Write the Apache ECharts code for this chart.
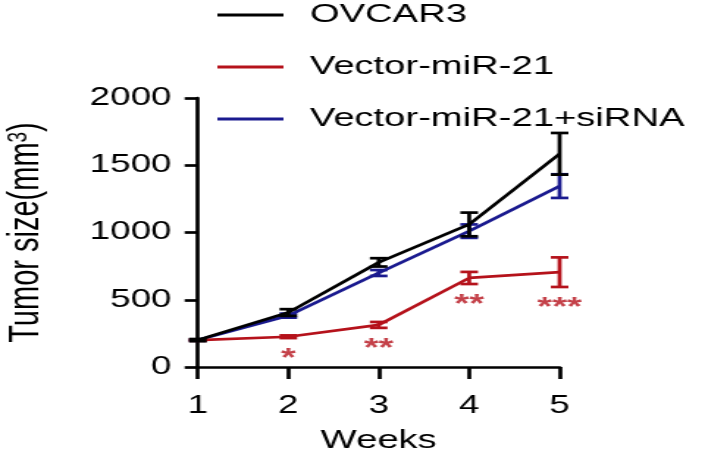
<!DOCTYPE html>
<html>
<head>
<meta charset="utf-8">
<script src="https://cdn.jsdelivr.net/npm/echarts@6/dist/echarts.min.js"></script>
<style>
  html, body { margin: 0; padding: 0; background: #fff; overflow: hidden; }
  #wrap { width: 705px; height: 460px; overflow: hidden; }
  #c { width: 480px; height: 460px; transform: scaleX(1.46875); transform-origin: 0 0; }
</style>
</head>
<body>
<div id="wrap"><div id="c"></div></div>
<script>
// ---- data ----
const weeks = [1, 2, 3, 4, 5];
const seriesNames = ['OVCAR3', 'Vector-miR-21', 'Vector-miR-21+siRNA'];
const ovcar3 = [200, 405, 778, 1060, 1585];
const ovcar3Err = [8, 25, 31, 88, 155];
const vectorMiR21 = [200, 225, 313, 662, 705];
const vectorMiR21Err = [5, 10, 22, 45, 110];
const siRNA = [200, 382, 699, 1010, 1345];
const siRNAErr = [5, 15, 22, 50, 88];
const stars = ['', '*', '**', '**', '***'];
const yTicks = { min: 0, max: 2000, interval: 500 };
const xTicks = { min: 1, max: 5, interval: 1 };

const colors = ['#000000', '#b5121b', '#1a1a8f'];
const FONT = 'Liberation Sans, Arial, sans-serif';

function lineSeries(name, vals, color, z) {
  return {
    name: name, type: 'line', data: weeks.map((w, i) => [w, vals[i]]),
    symbol: 'none', z: z,
    lineStyle: { color: color, width: 2.7 },
    itemStyle: { color: color },
    emphasis: { disabled: true }, animation: false
  };
}
function errSeries(name, vals, errs, color, z) {
  return {
    name: name, type: 'custom', z: z, clip: false, silent: true, animation: false,
    encode: { x: 0, y: 1 },
    data: weeks.map((w, i) => [w, vals[i], errs[i]]),
    renderItem: function (params, api) {
      const x = api.value(0), m = api.value(1), e = api.value(2);
      const hi = api.coord([x, m + e]);
      const lo = api.coord([x, m - e]);
      const hw = 6;
      const st = { stroke: color, lineWidth: 2.7 };
      return {
        type: 'group',
        children: [
          { type: 'line', shape: { x1: hi[0], y1: hi[1], x2: lo[0], y2: lo[1] }, style: st },
          { type: 'line', shape: { x1: hi[0] - hw, y1: hi[1], x2: hi[0] + hw, y2: hi[1] }, style: st },
          { type: 'line', shape: { x1: lo[0] - hw, y1: lo[1], x2: lo[0] + hw, y2: lo[1] }, style: st }
        ]
      };
    }
  };
}

const chart = echarts.init(document.getElementById('c'), null, { renderer: 'canvas' });
chart.setOption({
  animation: false,
  backgroundColor: '#ffffff',
  textStyle: { fontFamily: FONT },
  legend: {
    data: seriesNames.map(n => ({ name: n, icon: 'rect' })),
    orient: 'vertical', left: 143, top: -3,
    itemWidth: 45, itemHeight: 3, itemGap: 26,
    selectedMode: false,
    textStyle: { fontSize: 26, color: '#000', fontFamily: FONT, padding: [0, 0, 0, 13] }
  },
  grid: { left: 134.7, right: 99, top: 98, bottom: 93, containLabel: false, outerBoundsMode: 'none' },
  xAxis: {
    type: 'value', min: xTicks.min, max: xTicks.max, interval: xTicks.interval,
    name: 'Weeks', nameLocation: 'middle', nameGap: 61,
    nameTextStyle: { fontSize: 26, color: '#000', fontFamily: FONT },
    axisLine: { show: true, onZero: false, lineStyle: { color: '#000', width: 2.7 } },
    axisTick: { show: true, inside: false, length: 12, lineStyle: { color: '#000', width: 2.7 } },
    axisLabel: { fontSize: 25, color: '#000', margin: 27, fontFamily: FONT },
    splitLine: { show: false }
  },
  yAxis: {
    type: 'value', min: yTicks.min, max: yTicks.max, interval: yTicks.interval,
    name: '{a|Tumor size(mm}{s|3}{a|)}', nameLocation: 'middle', nameGap: 102,
    nameTextStyle: {
      color: '#000', fontFamily: FONT,
      rich: {
        a: { fontSize: 29, color: '#000', fontFamily: FONT },
        s: { fontSize: 19, color: '#000', fontFamily: FONT, verticalAlign: 'top', padding: [0, 0, 10, 0] }
      }
    },
    axisLine: { show: true, lineStyle: { color: '#000', width: 2.7 } },
    axisTick: { show: true, inside: false, length: 9, lineStyle: { color: '#000', width: 2.7 } },
    axisLabel: { fontSize: 25, color: '#000', margin: 18, fontFamily: FONT, formatter: v => String(v) },
    splitLine: { show: false }
  },
  series: [
    lineSeries(seriesNames[2], siRNA, colors[2], 2),
    errSeries(seriesNames[2], siRNA, siRNAErr, colors[2], 2),
    lineSeries(seriesNames[1], vectorMiR21, colors[1], 3),
    errSeries(seriesNames[1], vectorMiR21, vectorMiR21Err, colors[1], 3),
    lineSeries(seriesNames[0], ovcar3, colors[0], 4),
    errSeries(seriesNames[0], ovcar3, ovcar3Err, colors[0], 4),
    {
      name: 'significance', type: 'scatter', silent: true, animation: false,
      symbolSize: 0, z: 5,
      data: weeks.map((w, i) => [w, vectorMiR21[i] - vectorMiR21Err[i]]),
      label: {
        show: true, position: 'bottom', distance: 8,
        formatter: p => stars[p.dataIndex],
        color: colors[1], fontSize: 26, fontWeight: 'bold', fontFamily: FONT
      }
    }
  ]
});
</script>
</body>
</html>
